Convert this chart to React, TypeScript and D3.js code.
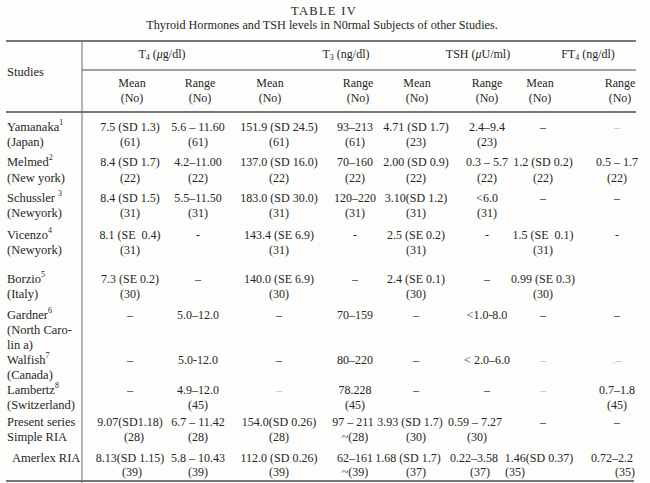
import React from "react";
import * as d3 from "d3";

// ---------- DATA ----------
const title = "TABLE IV";
const subtitle = "Thyroid Hormones and TSH levels in N0rmal Subjects of other Studies.";
const groupHeaders = ["T4", "T3", "TSH", "FT4"];
const subHeaders = ["Mean", "Range", "Mean", "Range", "Mean", "Range", "Mean", "Range"];

const studies = ["Yamanaka", "Melmed", "Schussler ", "Vicenzo", "Borzio", "Gardner", "Walfish", "Lambertz", "Present series", "Amerlex RIA"];
const studyRefs = ["1", "2", "3", "4", "5", "6", "7", "8", "", ""];
const studyPlaces = [["(Japan)"], ["(New york)"], ["(Newyork)"], ["(Newyork)"], ["(Italy)"], ["(North Caro-", "lin a)"], ["(Canada)"], ["(Switzerland)"], ["Simple RIA"], []];

const t4Mean = ["7.5 (SD 1.3)", "8.4 (SD 1.7)", "8.4 (SD 1.5)", "8.1 (SE  0.4)", "7.3 (SE 0.2)", "–", "–", "–", "9.07(SD1.18)", "8.13(SD 1.15)"];
const t4MeanN = ["(61)", "(22)", "(31)", "(31)", "(30)", "", "", "", "(28)", "(39)"];
const t4Range = ["5.6 – 11.60", "4.2–11.00", "5.5–11.50", "-", "–", "5.0–12.0", "5.0-12.0", "4.9–12.0", "6.7 – 11.42", "5.8 – 10.43"];
const t4RangeN = ["(61)", "(22)", "(31)", "", "", "", "", "(45)", "(28)", "(39)"];
const t3Mean = ["151.9 (SD 24.5)", "137.0 (SD 16.0)", "183.0 (SD 30.0)", "143.4 (SE 6.9)", "140.0 (SE 6.9)", "–", "–", "–", "154.0(SD 0.26)", "112.0 (SD 0.26)"];
const t3MeanN = ["(61)", "(22)", "(31)", "(31)", "(30)", "", "", "", "(28)", "(39)"];
const t3Range = ["93–213", "70–160", "120–220", "-", "–", "70–159", "80–220", "78.228", "97 – 211", "62–161"];
const t3RangeN = ["(61)", "(22)", "(31)", "", "", "", "", "(45)", "~(28)", "~(39)"];
const tshMean = ["4.71 (SD 1.7)", "2.00 (SD 0.9)", "3.10(SD 1.2)", "2.5 (SE 0.2)", "2.4 (SE 0.1)", "–", "–", "–", "3.93 (SD 1.7)", "1.68 (SD 1.7)"];
const tshMeanN = ["(23)", "(22)", "(31)", "(31)", "(30)", "", "", "", "(30)", "(37)"];
const tshRange = ["2.4–9.4", "0.3 – 5.7", "<6.0", "-", "–", "<1.0-8.0", "< 2.0–6.0", "–", "0.59 – 7.27", "0.22–3.58"];
const tshRangeN = ["(23)", "(22)", "(31)", "", "", "", "", "", "(30)", "(37)"];
const ft4Mean = ["–", "1.2 (SD 0.2)", "–", "1.5 (SE  0.1)", "0.99 (SE 0.3)", "–", "–", "–", "–", "1.46(SD 0.37)"];
const ft4MeanN = ["", "(22)", "", "(31)", "(30)", "", "", "", "", "(35)"];
const ft4Range = ["–", "0.5 – 1.7", "–", "-", "", "–", ".–", "0.7–1.8", "–", "0.72–2.2"];
const ft4RangeN = ["", "(22)", "", "", "", "", "", "(45)", "", "(35)"];

const columnKeys = ["t4Mean", "t4Range", "t3Mean", "t3Range", "tshMean", "tshRange", "ft4Mean", "ft4Range"];
const columnValues = [
  [t4Mean, t4MeanN], [t4Range, t4RangeN], [t3Mean, t3MeanN], [t3Range, t3RangeN],
  [tshMean, tshMeanN], [tshRange, tshRangeN], [ft4Mean, ft4MeanN], [ft4Range, ft4RangeN],
];

// ---------- LAYOUT / STYLE ----------
const W = 650, H = 483;
const FONT = "'Liberation Serif', 'Times New Roman', serif";
const INK = "#262626";
const FAINT = "#bdbdbd";
const rowIdx = d3.range(studies.length);

const colX = d3.scaleOrdinal<string, number>().domain(columnKeys).range([130, 198, 279, 355, 416, 487, 543, 617]);
const subHeadX = d3.scaleOrdinal<string, number>().domain(columnKeys).range([132, 200, 270, 358, 417, 487, 540, 620]);
const groupX = d3.scaleOrdinal<string, number>().domain(groupHeaders).range([162, 346, 478, 588]);
const rowY = d3.scaleOrdinal<number, number>().domain(rowIdx).range([127, 162, 198, 235, 279, 315, 360, 390, 422, 458]);
const lineGap = d3.scaleOrdinal<number, number>().domain(rowIdx).range([15, 16, 15, 15, 15, 15, 15, 15, 15, 14]);
const nameIndent = d3.scaleOrdinal<number, number>().domain(rowIdx).range([7, 7, 7, 7, 7, 7, 7, 7, 7, 12]);

const faintCells = new Set(["ft4Range-0", "ft4Mean-6", "ft4Range-6", "t3Mean-7", "ft4Mean-7"]);
const nudges: Record<string, number> = {
  "t3Range-8-0": -2,
  "tshMean-8-0": -6, "tshMean-9-0": -8,
  "tshRange-8-0": -12, "tshRange-9-0": -13, "tshRange-8-1": -10, "tshRange-9-1": -7,
  "ft4Mean-9-0": -4, "ft4Mean-9-1": -28, "ft4Range-9-0": -5, "ft4Range-9-1": 8,
  "t4Mean-8-1": 4, "t4Mean-9-1": 2,
};

const units: Record<string, [string, string, string]> = {
  T4: ["4", "μ", "g/dl)"],
  T3: ["3", "", "ng/dl)"],
  TSH: ["", "μ", "U/ml)"],
  FT4: ["4", "", "ng/dl)"],
};

function GroupHeader({ g }: { g: string }) {
  const [sub, mu, rest] = units[g];
  const base = g.replace(/\d$/, "");
  return (
    <text x={groupX(g)} y={58} textAnchor="middle" fontSize={12} fill={INK} style={{ whiteSpace: "pre" }}>
      {base}
      {sub && <tspan fontSize={8} dy={2}>{sub}</tspan>}
      <tspan dy={sub ? -2 : 0}>{" ("}</tspan>
      {mu && <tspan fontStyle="italic">{mu}</tspan>}
      <tspan>{rest}</tspan>
    </text>
  );
}

export default function App() {
  const hLines = [
    { y: 41, x1: 6, x2: 636, w: 1.4 },
    { y: 70, x1: 82, x2: 636, w: 1.1 },
    { y: 112, x1: 6, x2: 636, w: 1.4 },
    { y: 481, x1: 6, x2: 634, w: 1.6 },
  ];
  return (
    <svg width={W} height={H} style={{ position: "absolute", left: 0, top: 0, background: "#fff" }} fontFamily={FONT}>
      <rect x={0} y={0} width={W} height={H} fill="#fdfdfc" />
      <text x={324} y={15} textAnchor="middle" fontSize={12.5} letterSpacing={1.3} fill={INK}>{title}</text>
      <text x={322} y={29} textAnchor="middle" fontSize={12.2} fill={INK}>{subtitle}</text>

      {hLines.map((l, i) => (
        <line key={i} x1={l.x1} x2={l.x2} y1={l.y} y2={l.y} stroke="#4a4a4a" strokeWidth={l.w} />
      ))}
      <line x1={82} x2={82} y1={41} y2={483} stroke="#6a6a6a" strokeWidth={1} />

      <text x={7} y={76} fontSize={12.5} fill={INK}>Studies</text>
      {groupHeaders.map((g) => <GroupHeader key={g} g={g} />)}
      {columnKeys.map((c, i) => (
        <g key={c} fontSize={12} fill={INK} textAnchor="middle">
          <text x={subHeadX(c)} y={87}>{subHeaders[i]}</text>
          <text x={subHeadX(c)} y={102}>(No)</text>
        </g>
      ))}

      {rowIdx.map((r) => (
        <g key={"n" + r} fontSize={12.5} fill={INK}>
          <text x={nameIndent(r)} y={rowY(r) + 4} style={{ whiteSpace: "pre" }}>
            {studies[r]}
            {studyRefs[r] && <tspan fontSize={8} dy={-6}>{studyRefs[r]}</tspan>}
          </text>
          {studyPlaces[r].map((p, k) => (
            <text key={k} x={7} y={rowY(r) + 4 + lineGap(r) * (k + 1)}>{p}</text>
          ))}
        </g>
      ))}

      {columnKeys.map((c, ci) =>
        rowIdx.map((r) =>
          columnValues[ci].map((arr, li) => {
            const v = arr[r];
            if (!v) return null;
            const dx = nudges[`${c}-${r}-${li}`] || 0;
            return (
              <text
                key={`${c}-${r}-${li}`}
                x={colX(c) + dx}
                y={rowY(r) + 4 + lineGap(r) * li}
                textAnchor="middle"
                fontSize={12}
                fill={faintCells.has(`${c}-${r}`) ? FAINT : INK}
                style={{ whiteSpace: "pre" }}
              >
                {v}
              </text>
            );
          })
        )
      )}
    </svg>
  );
}
